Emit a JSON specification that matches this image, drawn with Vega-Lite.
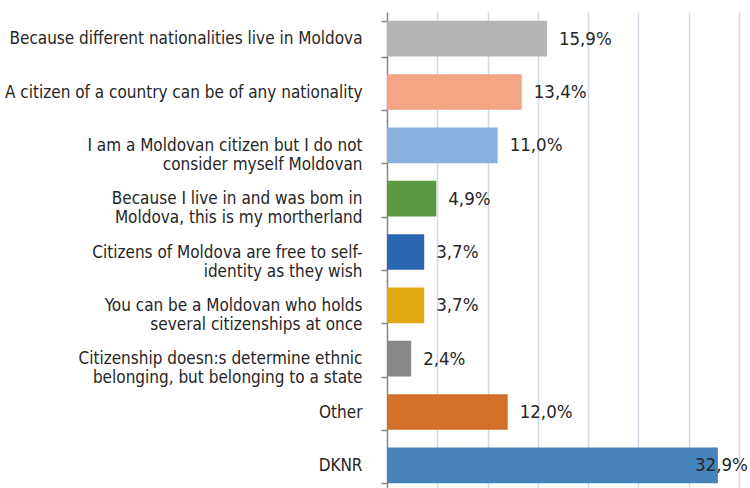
{
  "$schema": "https://vega.github.io/schema/vega-lite/v6.json",
  "autosize": "none",
  "width": 352,
  "height": 480,
  "padding": {"left": 387, "top": 12, "right": 11, "bottom": 0},
  "background": "white",
  "config": {
    "view": {"stroke": null},
    "locale": {"number": {"decimal": ",", "thousands": ".", "grouping": [3], "currency": ["", ""]}},
    "font": "DejaVu Sans Condensed, Liberation Sans, sans-serif"
  },
  "data": {
    "values": [
      {"cat": "Because different nationalities live in Moldova", "value": 0.159, "color": "#b3b5b5"},
      {"cat": "A citizen of a country can be of any nationality", "value": 0.134, "color": "#f4a585"},
      {"cat": "I am a Moldovan citizen but I do not|consider myself Moldovan", "value": 0.110, "color": "#87b1dc"},
      {"cat": "Because I live in and was bom in|Moldova, this is my mortherland", "value": 0.049, "color": "#5b9a41"},
      {"cat": "Citizens of Moldova are free to self-|identity as they wish", "value": 0.037, "color": "#2b66b1"},
      {"cat": "You can be a Moldovan who holds|several citizenships at once", "value": 0.037, "color": "#e2a814"},
      {"cat": "Citizenship doesn:s determine ethnic|belonging, but belonging to a state", "value": 0.024, "color": "#858789"},
      {"cat": "Other", "value": 0.120, "color": "#d46f27"},
      {"cat": "DKNR", "value": 0.329, "color": "#4683ba"}
    ]
  },
  "encoding": {
    "y": {
      "field": "cat", "type": "nominal", "sort": null,
      "scale": {"paddingInner": 0.33, "paddingOuter": 0.165},
      "axis": {
        "title": null,
        "labelExpr": "split(datum.label, '|')",
        "labelFontSize": 17,
        "labelLineHeight": 19,
        "labelColor": "#262626",
        "labelPadding": 19,
        "labelLimit": 400,
        "tickBand": "extent",
        "tickSize": 6,
        "tickColor": "#868686",
        "tickWidth": 1.5,
        "domainColor": "#868686",
        "domainWidth": 1.5,
        "grid": false
      }
    },
    "x": {
      "field": "value", "type": "quantitative",
      "scale": {"domain": [0, 0.35], "nice": false},
      "axis": {
        "title": null, "labels": false, "ticks": false, "domain": false,
        "grid": true, "gridColor": "#d0dae5", "gridWidth": 1.5,
        "values": [0.05, 0.1, 0.15, 0.2, 0.25, 0.3, 0.35]
      }
    }
  },
  "layer": [
    {
      "mark": {"type": "bar"},
      "encoding": {"color": {"field": "color", "type": "nominal", "scale": null}}
    },
    {
      "transform": [{"filter": "datum.cat != 'DKNR'"}],
      "mark": {"type": "text", "align": "left", "baseline": "middle", "dx": 12, "fontSize": 18.5, "color": "#262626"},
      "encoding": {"text": {"field": "value", "type": "quantitative", "format": ".1%"}}
    },
    {
      "transform": [{"filter": "datum.cat == 'DKNR'"}],
      "mark": {"type": "text", "align": "right", "baseline": "middle", "dx": 30, "fontSize": 18.5, "color": "#262626"},
      "encoding": {"text": {"field": "value", "type": "quantitative", "format": ".1%"}}
    }
  ]
}
